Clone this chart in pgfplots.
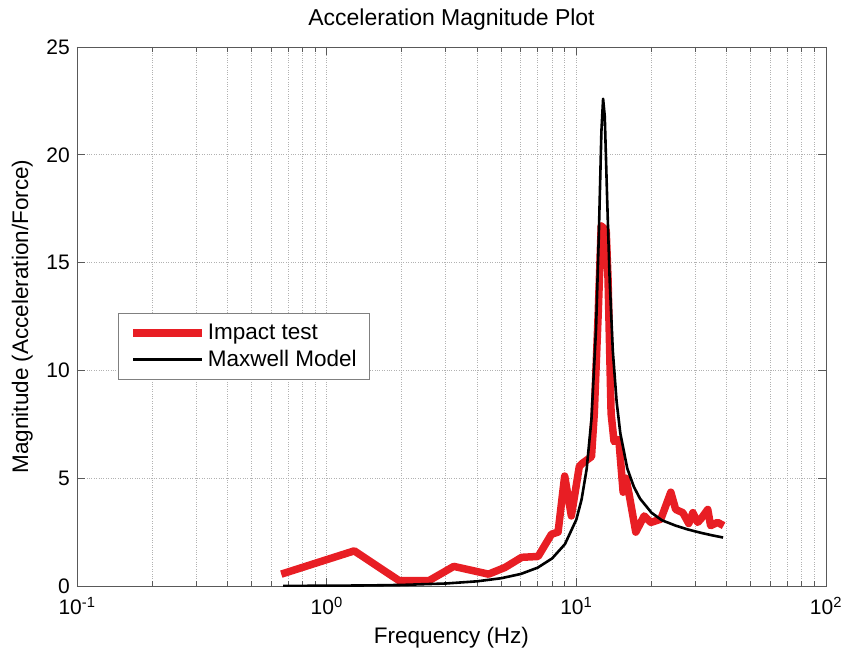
\documentclass[border=0pt]{standalone}
\usepackage{fontspec}
\setmainfont{Liberation Sans}
\usepackage{pgfplots}
\pgfplotsset{compat=1.18}
\definecolor{impred}{RGB}{232,30,36}
\begin{document}
\begin{tikzpicture}
\useasboundingbox (-77pt,-64pt) rectangle (765pt,586pt);
\begin{axis}[
  at={(0pt,0pt)}, anchor=south west,
  scale only axis, width=749pt, height=539pt,
  xmode=log, xmin=0.1, xmax=100, ymin=0, ymax=25,
  xtick={0.1,1,10,100},
  xticklabels={10\textsuperscript{-1},10\textsuperscript{0},10\textsuperscript{1},10\textsuperscript{2}},
  ytick={0,5,10,15,20,25},
  /pgf/number format/assume math mode=true,
  font=\fontsize{21}{25}\selectfont,
  xticklabel style={inner sep=1pt, yshift=-10pt},
  yticklabel style={inner sep=1pt, xshift=-6pt},
  grid=both,
  major grid style={gray!60, dotted, line width=0.9pt},
  minor grid style={gray!60, dotted, line width=0.9pt},
  axis line style={black!65, line width=0.9pt},
  tick style={black!65, line width=0.9pt},
  major tick length=8pt, minor tick length=5pt,
  tick align=inside,
  title={Acceleration Magnitude Plot},
  title style={at={(0.5,1)}, anchor=base, yshift=15pt, font=\fontsize{23}{27}\selectfont},
  xlabel={Frequency (Hz)},
  xlabel style={at={(axis description cs:0.5,0)}, anchor=base, yshift=-57pt, font=\fontsize{22.5}{27}\selectfont},
  ylabel={Magnitude (Acceleration/Force)},
  ylabel style={at={(axis description cs:-0.0654,0.5)}, anchor=base, font=\fontsize{22.5}{27}\selectfont},
  legend image code/.code={\draw[#1] (0pt,0pt) -- (69pt,0pt);},
  legend style={at={(0.0547,0.5065)}, anchor=north west, draw=gray, line width=0.9pt,
    font=\fontsize{22.5}{27}\selectfont, inner xsep=11pt, inner ysep=9pt, row sep=5pt,
    /tikz/every even column/.append style={column sep=6pt}},
  legend cell align=left,
]
\addplot[impred, line width=7.5pt, line join=round] coordinates {
(0.658,0.55) (1.29,1.63) (1.95,0.25) (2.57,0.25) (3.23,0.91) (4.45,0.55)
(5.18,0.86) (6.04,1.33) (7.03,1.37) (7.95,2.4) (8.45,2.5) (8.98,5.1)
(9.55,3.25) (10.28,5.55) (10.6,5.7) (11.5,6.0) (11.8,8.0) (12.24,12.7)
(12.58,16.7) (13.17,16.5) (13.4,14.2) (13.78,8.0) (14.16,6.7) (14.8,6.8)
(15.4,4.35) (15.8,5.0) (16.3,4.2) (17.3,2.5) (18.7,3.25) (19.9,2.95)
(21.8,3.1) (23.9,4.35) (25.0,3.55) (26.7,3.4) (28.2,2.9) (29.3,3.4)
(30.6,2.95) (31.5,3.1) (33.6,3.55) (34.5,2.8) (36.8,2.95) (38.9,2.8)
};
\addlegendentry{Impact test}
\addplot[black, line width=2.6pt, line join=round] coordinates {
(0.67,0.006) (1,0.012) (1.5,0.028) (2,0.05) (3,0.116) (4,0.217) (5,0.36)
(6,0.56) (7,0.85) (8,1.28) (9,1.94) (10,3.08) (10.5,4.02) (11,5.43)
(11.5,7.75) (12,12.0) (12.3,16.2) (12.6,21.07) (12.8,22.6) (13.0,21.77)
(13.3,17.8) (13.6,14.18) (14,10.9) (14.5,8.55) (15,7.09) (16,5.45)
(17,4.6) (18,4.05) (20,3.4) (22,3.05) (25,2.8) (28,2.62) (32,2.45)
(35,2.35) (38.7,2.25)
};
\addlegendentry{Maxwell Model}
\end{axis}
\end{tikzpicture}
\end{document}
